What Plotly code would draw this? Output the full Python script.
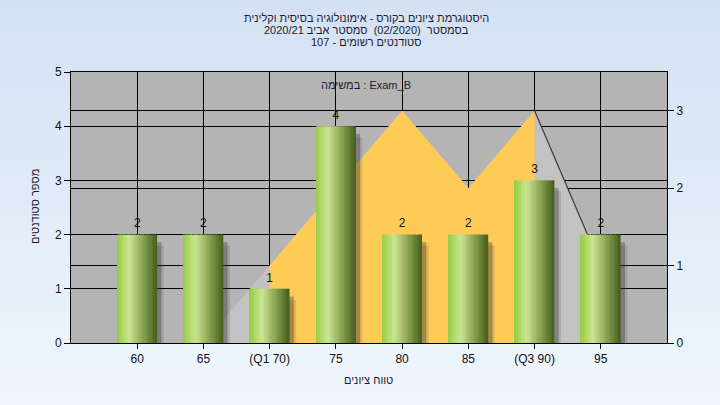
import plotly.graph_objects as go

# ---------------- data ----------------
categories = ["60", "65", "(Q1 70)", "75", "80", "85", "(Q3 90)", "95"]
counts = [2, 2, 1, 4, 2, 2, 3, 2]

curve_cats = ["65", "(Q1 70)", "75", "80", "85", "(Q3 90)", "95"]
curve_vals = [0, 1, 2, 3, 2, 3, 1]

iqr_cats = ["(Q1 70)", "75", "80", "85", "(Q3 90)"]
iqr_vals = [1, 2, 3, 2, 3]

tail_cats = ["(Q3 90)", "95"]
tail_vals = [3, 1]

LRM = "\u200e"
title_lines = [
    "היסטוגרמת ציונים בקורס - אימונולוגיה בסיסית וקלינית",
    "בסמסטר  (02/2020)  סמסטר אביב 2020/21",
    "סטודנטים רשומים - 107",
]
x_title = "טווח ציונים"
y_title = "מספר סטודנטים"
exam_text = "במשימה" + LRM + " : Exam_B"

FONT = "Liberation Sans, Arial, sans-serif"
W, H = 720, 405
ML, MR, MT, MB = 71, 53, 72, 62
PW, PH = W - ML - MR, H - MT - MB


def px_x(x):
    return (x - ML) / PW


def px_y(y):
    return (H - MB - y) / PH


fig = go.Figure()

# ---------- distribution areas (primary y, right side) ----------
fig.add_trace(go.Scatter(x=curve_cats, y=curve_vals, mode="lines", fill="tozeroy",
                         line=dict(width=0, color="#c2c2c2"), fillcolor="#c2c2c2",
                         yaxis="y", hoverinfo="skip", showlegend=False))
fig.add_trace(go.Scatter(x=iqr_cats, y=iqr_vals, mode="lines", fill="tozeroy",
                         line=dict(width=0, color="#fecb57"), fillcolor="#fecb57",
                         yaxis="y", hoverinfo="skip", showlegend=False))
fig.add_trace(go.Scatter(x=tail_cats, y=tail_vals, mode="lines",
                         line=dict(width=1.2, color="#3a3a3a"),
                         yaxis="y", hoverinfo="skip", showlegend=False))

# ---------- bar shadows ----------
shadow_y1 = [c - 0.14 for c in counts]
shadow_y2 = [c - 0.2 for c in counts]
fig.add_trace(go.Bar(x=categories, y=shadow_y2, width=0.6, offset=-0.3 + 0.1,
                     marker=dict(color="rgba(60,60,60,0.16)", line=dict(width=0)),
                     yaxis="y2", hoverinfo="skip", showlegend=False))
fig.add_trace(go.Bar(x=categories, y=shadow_y1, width=0.6, offset=-0.3 + 0.065,
                     marker=dict(color="rgba(50,50,50,0.34)", line=dict(width=0)),
                     yaxis="y2", hoverinfo="skip", showlegend=False))

# ---------- cylinder-like gradient bars ----------
stops = [(0.0, (150, 202, 68)), (0.12, (172, 214, 96)), (0.32, (202, 228, 146)),
         (0.55, (160, 182, 104)), (0.8, (108, 136, 58)), (1.0, (70, 94, 30))]


def grad(t):
    for (t0, c0), (t1, c1) in zip(stops[:-1], stops[1:]):
        if t0 <= t <= t1:
            f = (t - t0) / (t1 - t0)
            return "rgb(%d,%d,%d)" % tuple(round(a + (b - a) * f) for a, b in zip(c0, c1))
    return "rgb(%d,%d,%d)" % stops[-1][1]


N = 24
bw = 0.6
sw = bw / N
for i in range(N):
    fig.add_trace(go.Bar(x=categories, y=counts, width=sw * 1.08 if i < N - 1 else sw,
                         offset=-bw / 2 + i * sw,
                         marker=dict(color=grad((i + 0.5) / N), line=dict(width=0)),
                         yaxis="y2", hoverinfo="skip", showlegend=False))

# ---------- value labels ----------
fig.add_trace(go.Scatter(x=categories, y=counts, mode="markers+text",
                         text=[str(c) for c in counts],
                         marker=dict(size=5, color="rgba(0,0,0,0)"),
                         textposition="top center",
                         textfont=dict(family=FONT, size=12, color="#111"),
                         yaxis="y2", hoverinfo="skip", showlegend=False, cliponaxis=False))

# ---------- background gradient (paper) + plot area ----------
shapes = []
NB = 30
top_c, bot_c = (212, 225, 243), (239, 246, 253)
for i in range(NB):
    y0 = H * i / NB
    y1 = H * (i + 1) / NB + 1
    f = (i + 0.5) / NB
    col = "rgb(%d,%d,%d)" % tuple(round(a + (b - a) * f) for a, b in zip(top_c, bot_c))
    shapes.append(dict(type="rect", xref="paper", yref="paper", layer="below",
                       x0=px_x(-2), x1=px_x(W + 2), y0=px_y(y1), y1=px_y(y0),
                       fillcolor=col, line=dict(width=0)))
shapes.append(dict(type="rect", xref="paper", yref="paper", layer="below",
                   x0=0, x1=1, y0=0, y1=1, fillcolor="#b4b4b4", line=dict(width=0)))

annotations = []
for line, ypx in zip(title_lines, [18, 30, 42]):
    annotations.append(dict(text=line, xref="paper", yref="paper",
                            x=px_x(366), y=px_y(ypx), xanchor="center", yanchor="middle",
                            showarrow=False, font=dict(family=FONT, size=11, color="#1c1c30")))
annotations.append(dict(text=x_title, xref="paper", yref="paper",
                        x=px_x(368), y=px_y(380), xanchor="center", yanchor="middle",
                        showarrow=False, font=dict(family=FONT, size=11, color="#1c1c30")))
annotations.append(dict(text=y_title, xref="paper", yref="paper", textangle=-90,
                        x=px_x(35), y=px_y(207), xanchor="center", yanchor="middle",
                        showarrow=False, font=dict(family=FONT, size=11, color="#1c1c30")))
annotations.append(dict(text=exam_text, xref="paper", yref="paper",
                        x=px_x(366), y=px_y(85), xanchor="center", yanchor="middle",
                        showarrow=False, font=dict(family=FONT, size=11, color="#1c1c30")))

axis_font = dict(family=FONT, size=12, color="#111")
fig.update_layout(
    width=W, height=H,
    margin=dict(l=ML, r=MR, t=MT, b=MB, pad=0),
    paper_bgcolor="#e2ecf8",
    plot_bgcolor="rgba(0,0,0,0)",
    barmode="overlay",
    showlegend=False,
    shapes=shapes,
    annotations=annotations,
    xaxis=dict(type="category", categoryorder="array", categoryarray=categories,
               range=[-1, 8], showgrid=True, gridcolor="#000", gridwidth=1,
               showline=True, linecolor="#000", linewidth=1, mirror=True,
               ticks="outside", ticklen=5, tickcolor="#000", tickfont=axis_font,
               zeroline=False, fixedrange=True),
    yaxis=dict(side="right", range=[0, 3.5], dtick=1, tick0=0,
               showgrid=True, gridcolor="#000", gridwidth=1,
               showline=True, linecolor="#000", linewidth=1,
               ticks="outside", ticklen=6, tickcolor="#000", tickfont=axis_font,
               zeroline=False),
    yaxis2=dict(overlaying="y", side="left", range=[0, 5], dtick=1, tick0=0,
                showgrid=True, gridcolor="#000", gridwidth=1,
                showline=True, linecolor="#000", linewidth=1,
                ticks="outside", ticklen=6, tickcolor="#000", tickfont=axis_font,
                zeroline=False),
)

fig.write_html("out.html", config={"displayModeBar": False},
               post_script="document.body.style.margin='0';document.body.style.padding='0';")
